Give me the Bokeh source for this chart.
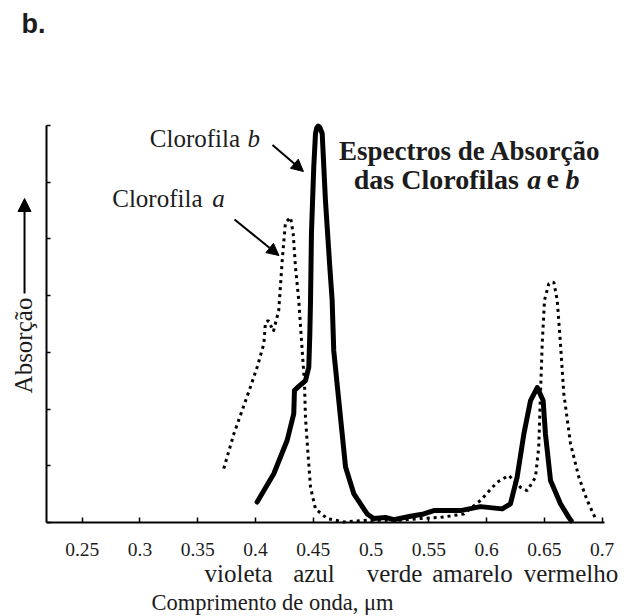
from bokeh.plotting import figure
from bokeh.models import (Range1d, FixedTicker, Label, Arrow, NormalHead, ColumnDataSource,
                          LinearAxis, CustomJSTickFormatter)
from bokeh.embed import file_html
from bokeh.resources import INLINE

# Absorption spectra of chlorophyll a and b (arbitrary absorption units)
chl_b_wl = [0.4014, 0.4158, 0.4274, 0.4331, 0.4337, 0.4374, 0.4432, 0.4461, 0.4470, 0.4476,
            0.4484, 0.4504, 0.4519, 0.4530, 0.4542, 0.4556, 0.4577, 0.4605, 0.4643, 0.4663,
            0.4677, 0.4735, 0.4779, 0.4850, 0.4966, 0.5023, 0.5125, 0.5197, 0.5341, 0.5456,
            0.5543, 0.5774, 0.5947, 0.6135, 0.6206, 0.6264, 0.6322, 0.6380, 0.6438, 0.6489,
            0.6509, 0.6553, 0.6639, 0.6711, 0.6732]
chl_b_abs = [0.36, 0.86, 1.45, 1.92, 2.33, 2.40, 2.50, 2.74, 3.33, 3.92,
             5.10, 6.27, 6.86, 6.96, 6.99, 6.97, 6.86, 5.68, 4.50, 3.92,
             3.03, 1.86, 0.98, 0.51, 0.15, 0.07, 0.09, 0.05, 0.11, 0.15,
             0.21, 0.21, 0.28, 0.24, 0.33, 0.80, 1.56, 2.15, 2.38, 2.15,
             1.56, 0.74, 0.33, 0.09, 0.03]

chl_a_wl = [0.3725, 0.3812, 0.3885, 0.3956, 0.4014, 0.4072, 0.4086, 0.4112, 0.4155, 0.4201,
            0.4231, 0.4259, 0.4303, 0.4326, 0.4346, 0.4374, 0.4404, 0.4424, 0.4432, 0.4452,
            0.4476, 0.4519, 0.4620, 0.4764, 0.4966, 0.5254, 0.5428, 0.5601, 0.5802, 0.5947,
            0.6091, 0.6192, 0.6235, 0.6293, 0.6351, 0.6423, 0.6451, 0.6466, 0.6481, 0.6501,
            0.6538, 0.6581, 0.6611, 0.6639, 0.6668, 0.6726, 0.6798, 0.6870, 0.6942]
chl_a_abs = [0.95, 1.56, 1.98, 2.39, 2.74, 3.15, 3.53, 3.56, 3.37, 3.74,
             4.62, 5.29, 5.38, 5.09, 4.50, 3.92, 3.03, 2.45, 1.86, 1.27,
             0.62, 0.24, 0.07, 0.01, 0.04, 0.04, 0.07, 0.09, 0.15, 0.39,
             0.71, 0.83, 0.74, 0.62, 0.56, 0.80, 1.33, 2.27, 3.15, 3.92,
             4.21, 4.24, 3.92, 3.15, 2.27, 1.39, 0.80, 0.39, 0.07]

x_ticks = [0.25, 0.3, 0.35, 0.4, 0.45, 0.5, 0.55, 0.6, 0.65, 0.7]
x_tick_labels = ["0.25", "0.3", "0.35", "0.4", "0.45", "0.5", "0.55", "0.6", "0.65", "0.7"]
y_ticks = [0, 1, 2, 3, 4, 5, 6, 7]

color_names = ["violeta", "azul", "verde", "amarelo", "vermelho"]
color_centers = [0.3853, 0.4506, 0.5203, 0.5878, 0.6730]

SERIF = "Liberation Serif"
INK = "#1c1c1c"

X0, X1 = 0.2191, 0.702   # extent of the wavelength axis
Y0, Y1 = 0.0, 7.0         # extent of the absorption axis

# the frame spans the whole page; axes sit at fixed data positions inside it
p = figure(width=636, height=616, output_backend="svg", toolbar_location=None,
           x_range=Range1d(0.1793, 0.7297), y_range=Range1d(-1.6576, 9.2048),
           x_axis_type=None, y_axis_type=None,
           min_border_left=0, min_border_right=0, min_border_top=0, min_border_bottom=0)
p.outline_line_color = None
p.grid.visible = False
p.background_fill_color = "white"
p.border_fill_color = "white"

no_labels = CustomJSTickFormatter(code="return ''")

# bottom axis: wavelength ticks pointing inwards
xa = LinearAxis(fixed_location=Y0, bounds=(X0, X1), ticker=FixedTicker(ticks=x_ticks),
                formatter=no_labels)
xa.major_tick_in = 5
xa.major_tick_out = 0
xa.minor_tick_line_color = None
xa.axis_line_width = 2
xa.major_tick_line_width = 1.5
xa.axis_line_color = "black"
xa.major_tick_line_color = "black"
p.add_layout(xa, "below")

# left axis: unlabeled ticks only
ya = LinearAxis(fixed_location=X0, bounds=(Y0, Y1), ticker=FixedTicker(ticks=y_ticks),
                formatter=no_labels)
ya.major_tick_in = 4
ya.major_tick_out = 0
ya.minor_tick_line_color = None
ya.axis_line_width = 2
ya.major_tick_line_width = 1.5
ya.axis_line_color = "black"
ya.major_tick_line_color = "black"
p.add_layout(ya, "left")

# spectra
src_a = ColumnDataSource(dict(x=chl_a_wl, y=chl_a_abs))
src_b = ColumnDataSource(dict(x=chl_b_wl, y=chl_b_abs))
p.line("x", "y", source=src_a, line_color="black", line_width=3, line_dash="3 4")
p.line("x", "y", source=src_b, line_color="black", line_width=5,
       line_join="round", line_cap="round")


def txt(x, y, s, size="25px", style="normal", font=SERIF, align="left", angle=0.0):
    p.add_layout(Label(x=x, y=y, text=s, text_font=font, text_font_size=size,
                       text_font_style=style, text_color=INK, text_align=align,
                       text_baseline="alphabetic", angle=angle))


# wavelength tick labels, set in the serif face under each tick
for t, s in zip(x_ticks, x_tick_labels):
    txt(t, -0.473, s, size="19.5px", align="center")

# panel letter
txt(0.1975, 8.79, "b.", size="27px", style="bold", font="Liberation Sans")

# curve labels with pointer arrows
txt(0.3085, 6.769, "Clorofila")
txt(0.3930, 6.769, "b", style="italic")
txt(0.2760, 5.711, "Clorofila")
txt(0.3625, 5.711, "a", style="italic")

head = dict(size=12, fill_color="black", line_color="black")
p.add_layout(Arrow(x_start=0.4147, y_start=6.657, x_end=0.4415, y_end=6.189,
                   line_width=2, line_color="black", end=NormalHead(**head)))
p.add_layout(Arrow(x_start=0.3818, y_start=5.343, x_end=0.4203, y_end=4.708,
                   line_width=2, line_color="black", end=NormalHead(**head)))

# chart heading
txt(0.5856, 6.546, "Espectros de Absorção", size="27px", style="bold", align="center")
txt(0.4850, 6.051, "das Clorofilas", size="28px", style="bold")
txt(0.6351, 6.051, "a", size="28px", style="bold italic")
txt(0.6518, 6.051, "e", size="28px", style="bold")
txt(0.6682, 6.051, "b", size="28px", style="bold italic")

# colour bands under the wavelength scale
for name, cx in zip(color_names, color_centers):
    txt(cx, -0.901, name, align="center")

# axis titles
txt(0.4147, -1.409, "Comprimento de onda, \u03bcm", size="22.5px", align="center")
txt(0.1989, 3.121, "Absorção", align="center", angle=1.5707963)
p.add_layout(Arrow(x_start=0.2001, y_start=4.038, x_end=0.2001, y_end=5.713,
                   line_width=2, line_color="black",
                   end=NormalHead(size=13, fill_color="black", line_color="black")))

open("out.html", "w").write(file_html(p, INLINE))
